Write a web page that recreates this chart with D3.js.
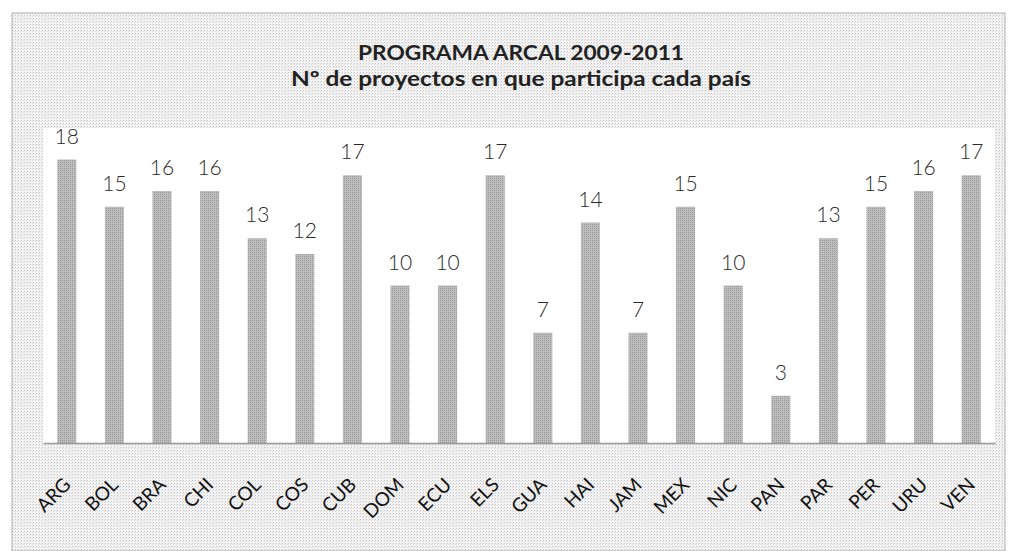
<!DOCTYPE html>
<html>
<head>
<meta charset="utf-8">
<script src="https://cdn.jsdelivr.net/npm/d3@7"></script>
<style>
  body { margin: 0; background: #fff; }
  svg { display: block; }
</style>
</head>
<body>
<div id="app"></div>
<script>
const COUNTRIES = ["ARG", "BOL", "BRA", "CHI", "COL", "COS", "CUB", "DOM", "ECU", "ELS",
  "GUA", "HAI", "JAM", "MEX", "NIC", "PAN", "PAR", "PER", "URU", "VEN"];
const PROJECTS = [18, 15, 16, 16, 13, 12, 17, 10, 10, 17, 7, 14, 7, 15, 10, 3, 13, 15, 16, 17];
const TITLE = ["PROGRAMA ARCAL 2009-2011", "N\u00ba de proyectos en que participa cada pa\u00eds"];
const TITLE_WIDTHS = [326, 460];

const WIDTH = 1010;
const HEIGHT = 551;
const MARGIN = { TOP: 128, BOTTOM: 108, LEFT: 43, RIGHT: 15 };

const svg = d3.select("#app").append("svg")
  .attr("width", WIDTH)
  .attr("height", HEIGHT);

// dotted scan-like texture
const defs = svg.append("defs");
const pat = defs.append("pattern")
  .attr("id", "dots").attr("width", 3).attr("height", 3)
  .attr("patternUnits", "userSpaceOnUse");
pat.append("rect").attr("width", 3).attr("height", 3).attr("fill", "#f3f3f3");
pat.append("rect").attr("width", 1).attr("height", 1).attr("fill", "#c2c2c2");
pat.append("rect").attr("x", 2).attr("y", 1).attr("width", 1).attr("height", 1).attr("fill", "#dadada");

const barPat = defs.append("pattern")
  .attr("id", "bardots").attr("width", 2).attr("height", 2)
  .attr("patternUnits", "userSpaceOnUse");
barPat.append("rect").attr("width", 2).attr("height", 2).attr("fill", "#bdbdbd");
barPat.append("rect").attr("width", 1).attr("height", 1).attr("fill", "#999");

// outer chart area
svg.append("rect")
  .attr("x", 12).attr("y", 13)
  .attr("width", WIDTH - 17).attr("height", HEIGHT - 13)
  .attr("fill", "url(#dots)")
  .attr("stroke", "#b0b0b0").attr("stroke-width", 1);

const x = d3.scaleBand()
  .domain(COUNTRIES)
  .range([MARGIN.LEFT, WIDTH - MARGIN.RIGHT])
  .paddingInner(0.6)
  .paddingOuter(0.3);

const y = d3.scaleLinear()
  .domain([0, 20])
  .range([HEIGHT - MARGIN.BOTTOM, MARGIN.TOP]);

// plot area
svg.append("rect")
  .attr("x", MARGIN.LEFT).attr("y", MARGIN.TOP)
  .attr("width", WIDTH - MARGIN.LEFT - MARGIN.RIGHT)
  .attr("height", HEIGHT - MARGIN.TOP - MARGIN.BOTTOM)
  .attr("fill", "#fff");

// title
svg.append("g")
  .selectAll("text")
  .data(TITLE)
  .join("text")
  .attr("x", 521)
  .attr("y", (d, i) => 60 + i * 26)
  .attr("text-anchor", "middle")
  .attr("font-family", "Lato, 'Open Sans', sans-serif")
  .attr("font-weight", 700)
  .attr("font-size", 21)
  .attr("textLength", (d, i) => TITLE_WIDTHS[i])
  .attr("lengthAdjust", "spacingAndGlyphs")
  .attr("fill", "#222")
  .text(d => d);

// bars
svg.append("g")
  .selectAll("rect")
  .data(PROJECTS)
  .join("rect")
  .attr("x", (d, i) => x(COUNTRIES[i]))
  .attr("y", d => y(d))
  .attr("width", x.bandwidth())
  .attr("height", d => y(0) - y(d))
  .attr("fill", "url(#bardots)");

// value labels
svg.append("g")
  .selectAll("text")
  .data(PROJECTS)
  .join("text")
  .attr("x", (d, i) => x(COUNTRIES[i]) + x.bandwidth() / 2)
  .attr("y", d => y(d) - 16)
  .attr("text-anchor", "middle")
  .attr("font-family", "Lato, 'Open Sans', sans-serif")
  .attr("font-weight", 300)
  .attr("font-size", 21)
  .attr("fill", "#2a2a2a")
  .text(d => d);

// x axis
const xAxis = svg.append("g")
  .attr("transform", `translate(0,${y(0)})`)
  .call(d3.axisBottom(x).tickSize(0).tickPadding(0));
xAxis.select(".domain").attr("stroke", "#999").attr("stroke-width", 1.5);
xAxis.selectAll("text")
  .attr("font-family", "Lato, 'Open Sans', sans-serif")
  .attr("font-size", 19)
  .attr("fill", "#111")
  .attr("text-anchor", "end")
  .attr("dy", 0)
  .attr("transform", "translate(5,43) rotate(-45)");
</script>
</body>
</html>
